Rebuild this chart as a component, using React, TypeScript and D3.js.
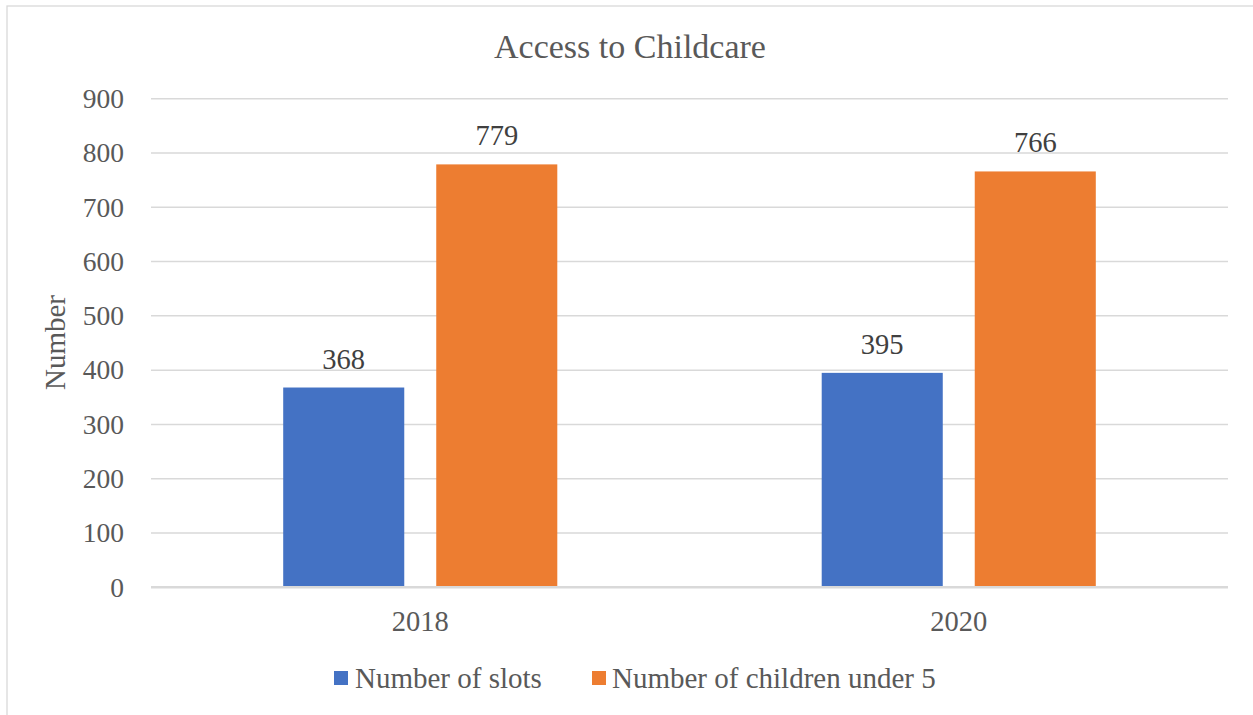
import React from "react";
import * as d3 from "d3";

const categories = ["2018", "2020"];
const seriesNames = ["Number of slots", "Number of children under 5"];
const slots = [368, 395];
const children = [779, 766];
const yTicks = [0, 100, 200, 300, 400, 500, 600, 700, 800, 900];
const colors = ["#4472C4", "#ED7D31"];

const W = 1253;
const H = 715;
const FONT = "'Liberation Serif', 'Times New Roman', serif";

export default function App() {
  const left = 151;
  const right = 1228;
  const top = 98.7;
  const bottom = 587.3;

  const x0 = d3.scaleBand<string>().domain(categories).range([left, right]).paddingInner(0.491).paddingOuter(0.2455);
  const x1 = d3.scaleBand<string>().domain(seriesNames).range([0, x0.bandwidth()]).paddingInner(0.209).paddingOuter(0);
  const y = d3.scaleLinear().domain([0, 900]).range([bottom, top]);

  const seriesValues = [slots, children];

  return (
    <svg width={W} height={H} style={{ position: "absolute", left: 0, top: 0, background: "#fff" }} fontFamily={FONT}>
      <rect x={0} y={0} width={W} height={H} fill="#fff" />
      <rect x={7} y={6} width={W + 20} height={H + 20} fill="none" stroke="#d9d9d9" strokeWidth={1.3} />
      <text x={630} y={58} textAnchor="middle" fontSize={34} fill="#595959">Access to Childcare</text>

      {yTicks.map((t) => (
        <g key={t}>
          {t !== 0 && (
            <line x1={left} x2={right} y1={y(t)} y2={y(t)} stroke="#d9d9d9" strokeWidth={1.5} />
          )}
          <text x={124} y={y(t)} dy="0.34em" textAnchor="end" fontSize={27.5} fill="#595959">{t}</text>
        </g>
      ))}

      {categories.map((c, ci) => (
        <g key={c}>
          {seriesNames.map((s, si) => {
            const v = seriesValues[si][ci];
            const bx = (x0(c) as number) + (x1(s) as number);
            return (
              <g key={s}>
                <rect x={bx} y={y(v)} width={x1.bandwidth()} height={y(0) - y(v)} fill={colors[si]} />
                <text x={bx + x1.bandwidth() / 2} y={y(v) - 19} textAnchor="middle" fontSize={28.5} fill="#404040">{v}</text>
              </g>
            );
          })}
          <text x={(x0(c) as number) + x0.bandwidth() / 2} y={631} textAnchor="middle" fontSize={28.5} fill="#595959">{c}</text>
        </g>
      ))}

      <line x1={left} x2={right} y1={y(0)} y2={y(0)} stroke="#d9d9d9" strokeWidth={2.5} />

      <text transform={`translate(65,342.5) rotate(-90)`} textAnchor="middle" fontSize={29} fill="#595959">Number</text>

      <g>
        <rect x={334} y={671} width={14} height={14} fill={colors[0]} />
        <text x={355} y={688} fontSize={29} fill="#595959">{seriesNames[0]}</text>
        <rect x={592} y={671} width={14} height={14} fill={colors[1]} />
        <text x={612} y={688} fontSize={29} fill="#595959">{seriesNames[1]}</text>
      </g>
    </svg>
  );
}
